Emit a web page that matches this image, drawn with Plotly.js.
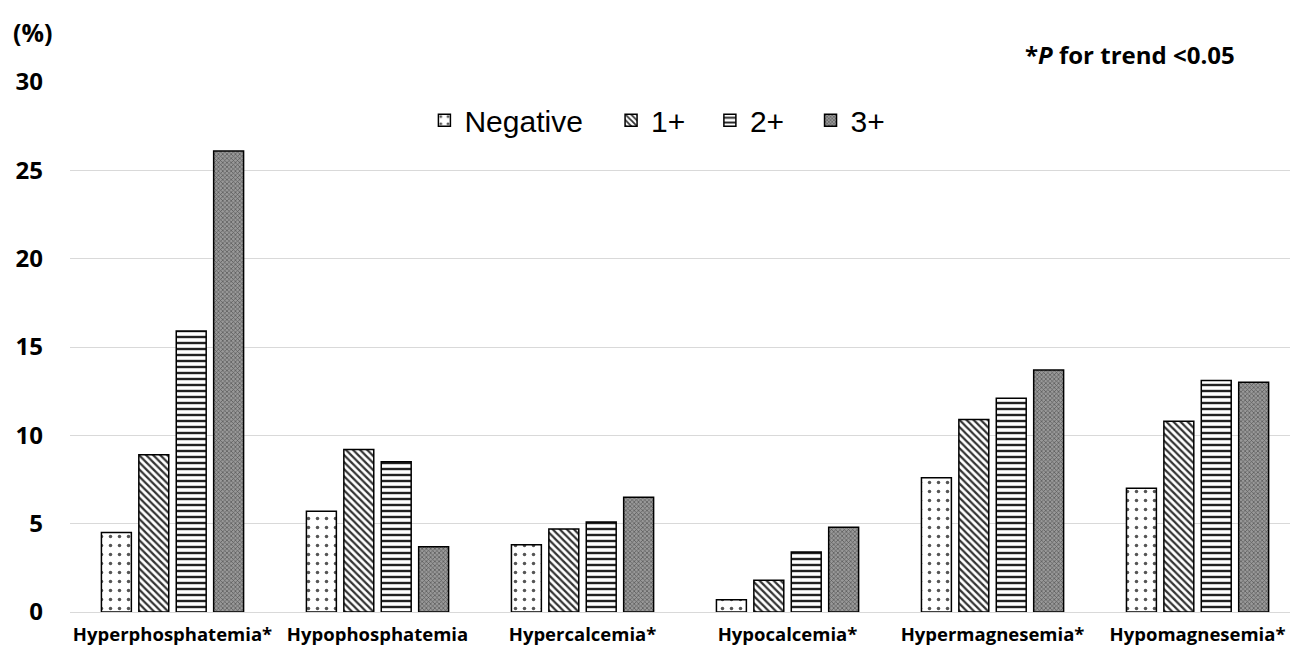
<!DOCTYPE html>
<html><head><meta charset="utf-8">
<script src="https://cdn.plot.ly/plotly-3.0.1.min.js"></script>
<style>html,body{margin:0;padding:0;background:#fff}</style>
</head><body>
<div id="chart" style="width:1290px;height:654px"></div>
<script>
const categories = ["Hyperphosphatemia*", "Hypophosphatemia", "Hypercalcemia*", "Hypocalcemia*", "Hypermagnesemia*", "Hypomagnesemia*"];
const seriesNames = ["Negative", "1+", "2+", "3+"];
const negative = [4.5, 5.7, 3.8, 0.7, 7.6, 7.0];
const plus1 = [8.9, 9.2, 4.7, 1.8, 10.9, 10.8];
const plus2 = [15.9, 8.5, 5.1, 3.4, 12.1, 13.1];
const plus3 = [26.1, 3.7, 6.5, 4.8, 13.7, 13.0];
const yTicks = [0, 5, 10, 15, 20, 25, 30];

const values = [negative, plus1, plus2, plus3];
const patterns = [
  {shape: ".", fgcolor: "#555", bgcolor: "#fff", size: 9, solidity: 0.12},
  {shape: "\\", fgcolor: "#333", bgcolor: "#fff", size: 5, solidity: 0.45},
  {shape: "-", fgcolor: "#222", bgcolor: "#fff", size: 6, solidity: 0.4},
  {shape: "x", fgcolor: "#555", bgcolor: "#999", size: 3, solidity: 0.4}
];
const legendIds = ["legend", "legend2", "legend3", "legend4"];
const legendX = [0.2905, 0.4435, 0.5245, 0.607];
const traces = values.map((v, i) => ({
  type: "bar", name: seriesNames[i], x: categories, y: v, legend: legendIds[i],
  marker: {color: "#fff", pattern: patterns[i], line: {color: "#000", width: 1.5}},
  hoverinfo: "skip"
}));

const legendFont = {family: "Liberation Sans, Arial, sans-serif", size: 30, color: "#000"};
const layout = {
  width: 1290, height: 654,
  margin: {l: 70, r: 0, t: 82, b: 42},
  paper_bgcolor: "#fff", plot_bgcolor: "#fff",
  barmode: "group", bargap: 0.27, bargroupgap: 0.2,
  showlegend: true,
  xaxis: {type: "category", range: [-0.5, 5.451], showgrid: false, zeroline: false,
    showline: false, ticks: "", ticklabelstandoff: 9,
    tickfont: {family: "Open Sans, Noto Sans, sans-serif", size: 18.5, color: "#000", weight: "bold"}},
  yaxis: {range: [0, 30], tickvals: yTicks, ticktext: yTicks.map(String),
    showgrid: true, gridcolor: "#d9d9d9", gridwidth: 1, zeroline: true, zerolinecolor: "#d9d9d9", zerolinewidth: 1,
    showline: false, ticks: "", ticklabelstandoff: 26,
    tickfont: {family: "Open Sans, Noto Sans, sans-serif", size: 24, color: "#000", weight: "bold"}},
  annotations: [
    {text: "<b>(%)</b>", xref: "paper", yref: "paper", x: -0.048, y: 1.095, xanchor: "left", yanchor: "middle",
      showarrow: false, font: {family: "Open Sans, Noto Sans, sans-serif", size: 25, color: "#000"}},
    {text: "<b>*<i>P</i> for trend <0.05</b>", xref: "paper", yref: "paper", x: 0.9566, y: 1.051, xanchor: "right", yanchor: "middle",
      showarrow: false, font: {family: "Open Sans, Noto Sans, sans-serif", size: 24, color: "#000"}}
  ]
};
legendIds.forEach((id, i) => {
  layout[id] = {orientation: "h", x: legendX[i], xanchor: "left", y: 0.928, yanchor: "middle",
    font: legendFont, bgcolor: "rgba(0,0,0,0)", itemwidth: 30};
});
Plotly.newPlot("chart", traces, layout, {displayModeBar: false, staticPlot: true});
</script>
</body></html>
